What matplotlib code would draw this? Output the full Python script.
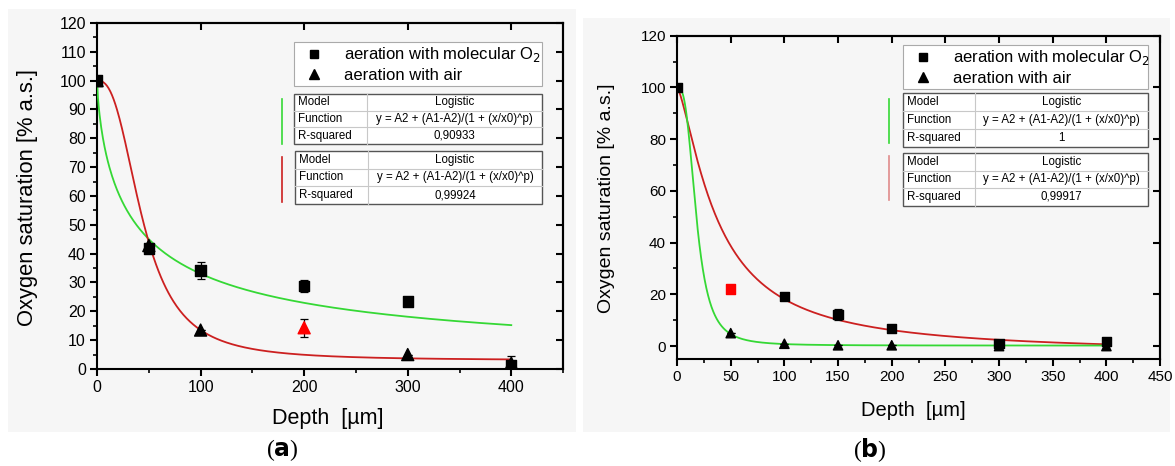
import numpy as np
import matplotlib.pyplot as plt
from matplotlib.lines import Line2D
from matplotlib.patches import Rectangle

plt.rcParams['font.family'] = ['Liberation Sans', 'DejaVu Sans']

# ---- panel (a) measurements ----
a_depth = [0, 50, 100, 200, 300, 400]
a_o2 = [100, 41.8, 34.2, 28.7, 23.4, 1.5]
a_o2_err = [0, 0, 3.0, 2.0, 1.0, 3.0]
a_air = [100, 42.8, 13.5, 14.3, 5.0, 2.0]
a_air_err = [0, 0, 0, 3.2, 0, 0]
a_o2_colors = ['k', 'k', 'k', 'k', 'k', 'k']
a_air_colors = ['k', 'k', 'k', 'red', 'k', 'k']
# logistic fit parameters (A1, A2, x0, p)
a_fit_o2 = (100, 0.0, 38.0, 0.73)
a_fit_air = (100, 3.0, 44.3, 2.59)
a_r2 = ['0,90933', '0,99924']

# ---- panel (b) measurements ----
b_depth = [0, 50, 100, 150, 200, 300, 400]
b_o2 = [100, 22.1, 19.1, 12.2, 6.7, 1.1, 1.8]
b_o2_err = [0, 0, 0.8, 2.3, 0.8, 1.0, 0.8]
b_air = [100, 5.0, 0.9, 0.3, 0.3, 0.0, 0.0]
b_air_err = [0, 0, 0, 0, 0, 0, 0]
b_o2_colors = ['k', 'red', 'k', 'k', 'k', 'k', 'k']
b_air_colors = ['k', 'k', 'k', 'k', 'k', 'k', 'k']
b_fit_o2 = (100, -3.0, 38.0, 1.4)
b_fit_air = (100, 0.2, 18.0, 3.0)
b_r2 = ['1', '0,99917']

model_name = 'Logistic'
model_func = 'y = A2 + (A1-A2)/(1 + (x/x0)^p)'

GREEN = '#35d835'
RED = '#cc2020'


def logistic(x, A1, A2, x0, p):
    return A2 + (A1 - A2) / (1 + (x / x0) ** p)


def fit_table(ax, x0, y0, w, h, r2, fs=8.3):
    # small Origin-style result table, axes coords
    col = 0.294 * w
    rows = [('Model', model_name), ('Function', model_func), ('R-squared', r2)]
    rh = h / 3
    for i in range(1, 3):
        ax.plot([x0, x0 + w], [y0 + h - i * rh] * 2, color='#c8c8c8', lw=0.8,
                transform=ax.transAxes, clip_on=False, zorder=5)
    ax.plot([x0 + col] * 2, [y0, y0 + h], color='#c8c8c8', lw=0.8,
            transform=ax.transAxes, clip_on=False, zorder=5)
    ax.add_patch(Rectangle((x0, y0), w, h, transform=ax.transAxes, fill=True,
                           facecolor='white', edgecolor='#555555', lw=1.0,
                           clip_on=False, zorder=4))
    for i, (k, v) in enumerate(rows):
        yc = y0 + h - (i + 0.5) * rh
        ax.text(x0 + 0.008, yc, k, transform=ax.transAxes, fontsize=fs,
                ha='left', va='center', zorder=6)
        ax.text(x0 + col + (w - col) / 2, yc, v, transform=ax.transAxes,
                fontsize=fs, ha='center', va='center', zorder=6)


def draw_panel(ax, depth, o2, o2_err, o2_c, air, air_err, air_c,
               fit_o2, fit_air, c_o2, c_air, ms_sq, ms_tri):
    xs = np.linspace(0.01, 400, 500)
    ax.plot(xs, logistic(xs, *fit_o2), color=c_o2, lw=1.3, zorder=3)
    ax.plot(xs, logistic(xs, *fit_air), color=c_air, lw=1.3, zorder=3)
    ax.errorbar(depth, o2, yerr=o2_err, fmt='none', ecolor='k', elinewidth=0.9,
                capsize=3, capthick=0.9, zorder=4)
    ax.errorbar(depth, air, yerr=air_err, fmt='none', ecolor='k', elinewidth=0.9,
                capsize=3, capthick=0.9, zorder=4)
    ax.scatter(depth, o2, marker='s', s=ms_sq, c=o2_c, zorder=5)
    ax.scatter(depth, air, marker='^', s=ms_tri, c=air_c, zorder=5)


def style_axes(ax, xmaj, xmin, ymaj, ymin, fs):
    for s in ax.spines.values():
        s.set_linewidth(1.5)
    ax.set_xticks(xmaj)
    ax.set_xticks(xmin, minor=True)
    ax.set_yticks(ymaj)
    ax.set_yticks(ymin, minor=True)
    ax.tick_params(which='major', direction='out', length=5, width=1.5,
                   labelsize=fs, pad=3)
    ax.tick_params(which='minor', direction='out', length=3, width=1.2)
    top = ax.secondary_xaxis('top')
    top.set_xticks(xmaj)
    top.set_xticks([], minor=True)
    top.tick_params(direction='in', length=5, width=1.5, labeltop=False)
    right = ax.secondary_yaxis('right')
    right.set_yticks(ymaj)
    right.set_yticks([], minor=True)
    right.tick_params(direction='in', length=5, width=1.5, labelright=False)
    for s in list(top.spines.values()) + list(right.spines.values()):
        s.set_linewidth(1.5)


fig = plt.figure(figsize=(11.75, 4.66), dpi=100)
fig.patches.append(Rectangle((0.007, 0.073), 0.483, 0.908, transform=fig.transFigure,
                             facecolor='#f6f6f6', edgecolor='none', zorder=-10))
fig.patches.append(Rectangle((0.496, 0.073), 0.5, 0.889, transform=fig.transFigure,
                             facecolor='#f6f6f6', edgecolor='none', zorder=-10))

ax_a = fig.add_axes([0.0826, 0.2082, 0.3966, 0.7425])
ax_b = fig.add_axes([0.5762, 0.2296, 0.4111, 0.6938])
for ax in (ax_a, ax_b):
    ax.set_facecolor('none')

# ---- (a) ----
draw_panel(ax_a, a_depth, a_o2, a_o2_err, a_o2_colors, a_air, a_air_err,
           a_air_colors, a_fit_o2, a_fit_air, GREEN, RED, 55, 75)
ax_a.set_xlim(0, 450)
ax_a.set_ylim(0, 120)
style_axes(ax_a, [0, 100, 200, 300, 400], [50, 150, 250, 350, 450],
           np.arange(0, 121, 10), np.arange(5, 120, 10), 11.5)
ax_a.set_xlabel('Depth  [µm]', fontsize=15.5, va='center')
ax_a.xaxis.set_label_coords(0.494, -0.142)
ax_a.set_ylabel('Oxygen saturation [% a.s.]', fontsize=15.8, va='center')
ax_a.yaxis.set_label_coords(-0.150, 0.497)

# ---- (b) ----
draw_panel(ax_b, b_depth, b_o2, b_o2_err, b_o2_colors, b_air, b_air_err,
           b_air_colors, b_fit_o2, b_fit_air, RED, GREEN, 45, 45)
ax_b.set_xlim(0, 450)
ax_b.set_ylim(-5, 120)
style_axes(ax_b, np.arange(0, 451, 50), np.arange(25, 450, 50),
           np.arange(0, 121, 20), np.arange(10, 120, 20), 11)
ax_b.set_xlabel('Depth  [µm]', fontsize=14.5, va='center')
ax_b.xaxis.set_label_coords(0.489, -0.160)
ax_b.set_ylabel('Oxygen saturation [% a.s.]', fontsize=14, va='center')
ax_b.yaxis.set_label_coords(-0.145, 0.498)

# legends and fit tables
handles = [Line2D([], [], marker='s', ls='none', color='k', ms=6),
           Line2D([], [], marker='^', ls='none', color='k', ms=7)]
labels = ['aeration with molecular O$_2$', 'aeration with air']
for ax, box in ((ax_a, (0.423, 0.809, 0.532, 0.136)),
                (ax_b, (0.468, 0.835, 0.507, 0.136))):
    leg = ax.legend(handles, labels, loc='upper left', bbox_to_anchor=box,
                    mode='expand', fontsize=12, frameon=True, fancybox=False,
                    edgecolor='#aaaaaa', framealpha=1, borderpad=0.2,
                    handletextpad=0.8, labelspacing=0.2, borderaxespad=0)
    leg.get_frame().set_linewidth(0.8)

fit_table(ax_a, 0.423, 0.650, 0.532, 0.145, a_r2[0])
fit_table(ax_a, 0.425, 0.477, 0.530, 0.153, a_r2[1])
ax_a.plot([0.397, 0.397], [0.650, 0.780], color=GREEN, lw=1.2,
          transform=ax_a.transAxes, clip_on=False)
ax_a.plot([0.397, 0.397], [0.483, 0.613], color=RED, lw=1.2,
          transform=ax_a.transAxes, clip_on=False)

fit_table(ax_b, 0.468, 0.656, 0.507, 0.167, b_r2[0])
fit_table(ax_b, 0.468, 0.474, 0.507, 0.163, b_r2[1])
ax_b.plot([0.439, 0.439], [0.668, 0.804], color=GREEN, lw=1.2,
          transform=ax_b.transAxes, clip_on=False)
ax_b.plot([0.439, 0.439], [0.492, 0.628], color='#e08a8a', lw=1.2,
          transform=ax_b.transAxes, clip_on=False)

# panel letters
for x, letter in ((0.240, 'a'), (0.740, 'b')):
    fig.text(x, 0.034, '(' + r'$\mathbf{' + letter + '}$' + ')', fontsize=17,
             ha='center', va='center', family=['Liberation Serif', 'DejaVu Serif'])

fig.savefig('out.png', dpi=100)
